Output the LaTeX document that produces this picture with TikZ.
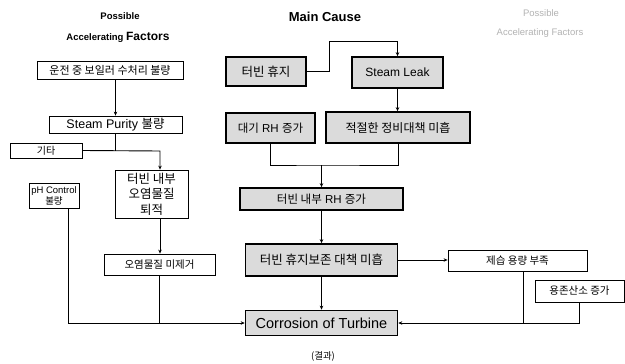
\documentclass[tikz,border=0pt]{standalone}
\usepackage{fontspec}
\setmainfont{Liberation Sans}
\newfontfamily\kr{Noto Sans CJK KR}
\usetikzlibrary{arrows.meta}
\tikzset{
  plainbox/.style={draw=black, line width=0.8pt, fill=white, inner sep=0pt, align=center},
  mainbox/.style={draw=black, line width=1.6pt, fill=gray!28, inner sep=0pt, align=center},
  conn/.style={line width=0.9pt, -{Stealth[length=4pt,width=3.5pt]}},
  link/.style={line width=0.9pt},
  ttl/.style={font=\bfseries, inner sep=0pt},
  gttl/.style={text=gray!60, inner sep=0pt, font=\fontsize{9.5}{10}\selectfont},
}
\newcommand{\fs}[1]{\fontsize{#1}{#1}\selectfont}
\begin{document}
\begin{tikzpicture}[x=1pt,y=-1pt]
\useasboundingbox (0,0) rectangle (625,364);
% titles
\node[ttl,font=\bfseries\fs{9.5}] (t1) at (120,16) {Possible};
\node[ttl] (t2) at (118,37) {\fs{9.5}\bfseries Accelerating {\fs{12}Factors}};
\node[ttl,font=\bfseries\fs{13}] (t3) at (325,17) {Main Cause};
\node[gttl] (t4) at (541,13) {Possible};
\node[gttl] (t5) at (540,33) {Accelerating Factors};
% left column
\node[plainbox, minimum width=146, minimum height=18] (b1) at (110,70) {\kr\fs{11}운전 중 보일러 수처리 불량};
\node[plainbox, minimum width=133, minimum height=17] (b2) at (115.5,124.5) {\fs{12.5}Steam Purity {\kr 불량}};
\node[plainbox, minimum width=72, minimum height=15] (b3) at (46,150.5) {\kr\fs{10}기타};
\node[plainbox, minimum width=73, minimum height=48, font=\kr\fontsize{12.5}{15.5}\selectfont] (b4) at (151.5,194) {터빈 내부\\오염물질\\퇴적};
\node[plainbox, minimum width=50, minimum height=25, font=\fontsize{9.5}{11}\selectfont] (b5) at (54,195.5) {pH Control\\{\kr 불량}};
\node[plainbox, minimum width=111, minimum height=21] (b6) at (159.5,264.5) {\kr\fs{10.5}오염물질 미제거};
% middle column
\node[mainbox, minimum width=80, minimum height=29] (hyu) at (266,71.5) {\kr\fs{12.5}터빈 휴지};
\node[mainbox, minimum width=91, minimum height=31] (leak) at (397.5,72.5) {\fs{12}Steam Leak};
\node[mainbox, minimum width=89, minimum height=30] (dae) at (270.5,128) {\fs{11.5}{\kr 대기} RH {\kr 증가}};
\node[mainbox, minimum width=144, minimum height=31] (jeok) at (398,127.5) {\kr\fs{12}적절한 정비대책 미흡};
\node[mainbox, minimum width=163, minimum height=22] (rh) at (321.5,199) {\fs{11.5}{\kr 터빈 내부} RH {\kr 증가}};
\node[mainbox, minimum width=152, minimum height=32] (h8) at (321.5,260) {\kr\fs{12.5}터빈 휴지보존 대책 미흡};
\node[mainbox, minimum width=152, minimum height=25] (corr) at (321.5,323) {\fs{14.5}Corrosion of Turbine};
\node[inner sep=0pt] (res) at (323,357) {\kr\fs{9.5}(결과)};
% right column
\node[plainbox, minimum width=139, minimum height=21] (jes) at (517.5,261) {\kr\fs{10.5}제습 용량 부족};
\node[plainbox, minimum width=89, minimum height=22] (yong) at (579.5,291) {\kr\fs{10.5}용존산소 증가};
% connectors left
\coordinate (k1) at (160,151);
\coordinate (k2) at (68,0);
\draw[conn] (b1.south -| b2.north) -- (b2.north);
\draw[link] (b2.south) -- (b2.south |- k1);
\draw[conn] (b3.east) -- (k1) -- (k1 |- b4.north);
\draw[conn] (b4.south -| k1) -- (b6.north -| k1);
\draw[conn] (b5.south -| k2) |- (corr.west);
\draw[link] (b6.south) -- (b6.south |- corr.west);
% connectors middle
\coordinate (k3) at (329,41);
\draw[conn] (hyu.east) -| (k3) -| (leak.north);
\draw[conn] (leak.south) -- (leak.south |- jeok.north);
\coordinate (k4) at (321.5,165);
\draw[link] (dae.south) |- (k4) -| (jeok.south);
\draw[conn] (k4) -- (rh.north);
\draw[conn] (rh.south) -- (h8.north);
\draw[conn] (h8.south) -- (corr.north);
\draw[conn] (h8.east) -- (h8.east -| jes.west);
% connectors right
\coordinate (k5) at (523,0);
\draw[link] (jes.south -| k5) -- (k5 |- corr.east);
\draw[conn] (yong.south) |- (corr.east);
\end{tikzpicture}
\end{document}
